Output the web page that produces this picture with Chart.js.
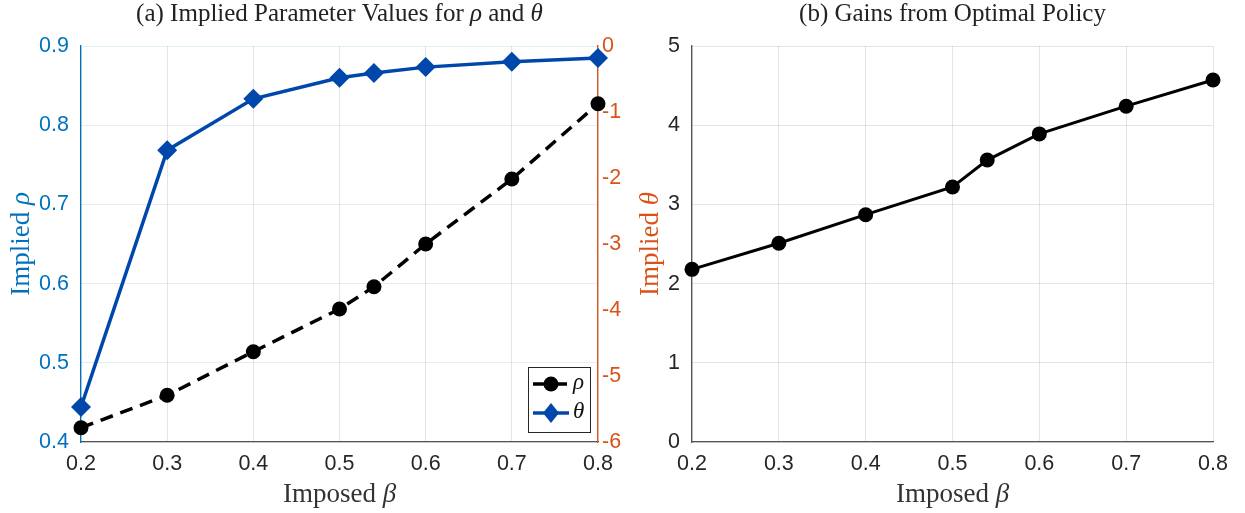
<!DOCTYPE html>
<html>
<head>
<meta charset="utf-8">
<script src="https://cdn.jsdelivr.net/npm/chart.js@4.4.1/dist/chart.umd.min.js"></script>
<style>
  body { margin: 0; background: #fff; }
  #wrap { position: relative; width: 1245px; height: 513px; }
  .box { position: absolute; top: 0; height: 513px; }
</style>
</head>
<body>
<div id="wrap">
  <div class="box" style="left:0;width:680px"><canvas id="left"></canvas></div>
  <div class="box" style="left:612px;width:633px"><canvas id="right"></canvas></div>
</div>
<script>
// imposed beta on x
var beta = [0.2, 0.3, 0.4, 0.5, 0.54, 0.6, 0.7, 0.8];
var rho = [0.418, 0.459, 0.514, 0.568, 0.596, 0.650, 0.732, 0.827];
var theta = [-5.47, -1.58, -0.80, -0.48, -0.41, -0.32, -0.24, -0.18];
var gains = [2.18, 2.51, 2.87, 3.22, 3.56, 3.89, 4.24, 4.57];

var xTicks = [0.2, 0.3, 0.4, 0.5, 0.6, 0.7, 0.8];
var rhoTicks = [0.4, 0.5, 0.6, 0.7, 0.8, 0.9];
var thetaTicks = [-6, -5, -4, -3, -2, -1, 0];
var gainTicks = [0, 1, 2, 3, 4, 5];

var BLUE = '#0072BD', ORANGE = '#D95319', DARK = '#262626', LINEBLUE = '#0047AB';
var sans = 'Liberation Sans, Arial, sans-serif';
var serif = 'Liberation Serif, Times New Roman, serif';
var TICK = 21.5, LABEL = 27, TITLE = 25;

function pts(ys) {
  return beta.map(function (b, i) { return {x: b, y: ys[i]}; });
}

// text made of runs, [text, italic], centred on (x, y), optionally turned
function drawRuns(ctx, runs, x, y, size, color, rot) {
  ctx.save();
  ctx.translate(x, y);
  if (rot) ctx.rotate(rot);
  ctx.fillStyle = color;
  ctx.textBaseline = 'middle';
  var fonts = runs.map(function (r) { return (r[1] ? 'italic ' : '') + size + 'px ' + serif; });
  var total = 0;
  runs.forEach(function (r, i) { ctx.font = fonts[i]; total += ctx.measureText(r[0]).width; });
  var cx = -total / 2;
  runs.forEach(function (r, i) {
    ctx.font = fonts[i];
    ctx.fillText(r[0], cx, 0);
    cx += ctx.measureText(r[0]).width;
  });
  ctx.restore();
}

function labelPlugin(items) {
  return {
    id: 'labels',
    afterDraw: function (chart) {
      var a = chart.chartArea, mid = (a.left + a.right) / 2, vmid = (a.top + a.bottom) / 2;
      items.forEach(function (it) {
        var x = it.x === 'mid' ? mid : it.x, y = it.y === 'mid' ? vmid : it.y;
        drawRuns(chart.ctx, it.runs, x, y, it.size, it.color, it.rot);
      });
    }
  };
}

function xAxis() {
  return {
    type: 'linear', min: 0.2, max: 0.8,
    afterBuildTicks: function (s) { s.ticks = xTicks.map(function (v) { return {value: v}; }); },
    afterFit: function (s) { s.height = 71; s.paddingLeft = 0; s.paddingRight = 0; },
    ticks: { color: DARK, font: {family: sans, size: TICK}, padding: 9, maxRotation: 0,
             callback: function (v) { return v.toFixed(1); } },
    grid: { color: 'rgba(0,0,0,0.1)', drawTicks: false },
    border: { color: '#555', width: 1.3 }
  };
}

// legend drawn inside the plot area, bottom right
var boxLegend = {
  id: 'boxLegend',
  afterDraw: function (chart) {
    var ctx = chart.ctx, a = chart.chartArea;
    var w = 62, h = 65, x0 = a.right - 70, y0 = a.bottom - 75;
    ctx.save();
    ctx.fillStyle = '#fff';
    ctx.fillRect(x0, y0, w, h);
    ctx.strokeStyle = '#262626';
    ctx.lineWidth = 1;
    ctx.strokeRect(x0 + 0.5, y0 + 0.5, w, h);
    chart.data.datasets.forEach(function (ds, i) {
      var y = y0 + 17 + i * 29, lx = x0 + 5, cx = lx + 18;
      ctx.strokeStyle = ds.borderColor;
      ctx.lineWidth = ds.borderWidth;
      ctx.setLineDash(ds.borderDash || []);
      ctx.beginPath(); ctx.moveTo(lx, y); ctx.lineTo(lx + 36, y); ctx.stroke();
      ctx.setLineDash([]);
      ctx.fillStyle = ds.pointBackgroundColor;
      ctx.beginPath();
      if (ds.pointStyle === 'rectRot') {
        var r = ds.pointRadius;
        ctx.moveTo(cx, y - r); ctx.lineTo(cx + r * 0.8, y); ctx.lineTo(cx, y + r); ctx.lineTo(cx - r * 0.8, y);
        ctx.closePath();
      } else {
        ctx.arc(cx, y, ds.pointRadius, 0, Math.PI * 2);
      }
      ctx.fill();
      ctx.fillStyle = '#111';
      ctx.font = 'italic 23px ' + serif;
      ctx.textBaseline = 'middle';
      ctx.fillText(ds.label, lx + 40, y - 1);
    });
    ctx.restore();
  }
};

new Chart(document.getElementById('left'), {
  type: 'line',
  data: {
    datasets: [{
      label: 'ρ', data: pts(rho), yAxisID: 'yRho', clip: false,
      borderColor: '#000', borderWidth: 3.5, borderDash: [13, 8],
      pointStyle: 'circle', pointRadius: 7.5, pointBackgroundColor: '#000', pointBorderWidth: 0
    }, {
      label: 'θ', data: pts(theta), yAxisID: 'yTheta', clip: false,
      borderColor: LINEBLUE, borderWidth: 3.5,
      pointStyle: 'rectRot', pointRadius: 10, pointBackgroundColor: LINEBLUE, pointBorderWidth: 0
    }]
  },
  options: {
    responsive: true, maintainAspectRatio: false, animation: false,
    layout: { padding: {top: 46} },
    plugins: { legend: { display: false }, tooltip: { enabled: false } },
    scales: {
      x: xAxis(),
      yRho: {
        type: 'linear', position: 'left', min: 0.4, max: 0.9,
        afterBuildTicks: function (s) { s.ticks = rhoTicks.map(function (v) { return {value: v}; }); },
        afterFit: function (s) { s.width = 81; s.paddingTop = 0; s.paddingBottom = 0; },
        ticks: { color: BLUE, font: {family: sans, size: TICK}, padding: 12,
                 callback: function (v) { return v.toFixed(1); } },
        grid: { color: 'rgba(0,114,189,0.12)', drawTicks: false },
        border: { color: BLUE, width: 1.3 }
      },
      yTheta: {
        type: 'linear', position: 'right', min: -6, max: 0,
        afterBuildTicks: function (s) { s.ticks = thetaTicks.map(function (v) { return {value: v}; }); },
        afterFit: function (s) { s.width = 82; s.paddingTop = 0; s.paddingBottom = 0; },
        ticks: { color: ORANGE, font: {family: sans, size: TICK}, padding: 4 },
        grid: { display: false, drawTicks: false },
        border: { color: ORANGE, width: 1.3 }
      }
    }
  },
  plugins: [boxLegend, labelPlugin([
    {runs: [['(a) Implied Parameter Values for '], ['ρ', 1], [' and '], ['θ', 1]],
     x: 'mid', y: 14, size: TITLE, color: '#222'},
    {runs: [['Imposed '], ['β', 1]], x: 'mid', y: 495, size: LABEL, color: '#333'},
    {runs: [['Implied '], ['ρ', 1]], x: 22, y: 'mid', size: LABEL, color: BLUE, rot: -Math.PI / 2},
    {runs: [['Implied '], ['θ', 1]], x: 651, y: 'mid', size: LABEL, color: ORANGE, rot: -Math.PI / 2}
  ])]
});

new Chart(document.getElementById('right'), {
  type: 'line',
  data: {
    datasets: [{
      label: 'Gains', data: pts(gains), clip: false,
      borderColor: '#000', borderWidth: 3,
      pointStyle: 'circle', pointRadius: 7.5, pointBackgroundColor: '#000', pointBorderWidth: 0
    }]
  },
  options: {
    responsive: true, maintainAspectRatio: false, animation: false,
    layout: { padding: {top: 46, right: 32} },
    plugins: { legend: { display: false }, tooltip: { enabled: false } },
    scales: {
      x: xAxis(),
      y: {
        type: 'linear', min: 0, max: 5,
        afterBuildTicks: function (s) { s.ticks = gainTicks.map(function (v) { return {value: v}; }); },
        afterFit: function (s) { s.width = 80; s.paddingTop = 0; s.paddingBottom = 0; },
        ticks: { color: DARK, font: {family: sans, size: TICK}, padding: 12 },
        grid: { color: 'rgba(0,0,0,0.1)', drawTicks: false },
        border: { color: '#555', width: 1.3 }
      }
    }
  },
  plugins: [labelPlugin([
    {runs: [['(b) Gains from Optimal Policy']], x: 'mid', y: 14, size: TITLE, color: '#222'},
    {runs: [['Imposed '], ['β', 1]], x: 'mid', y: 495, size: LABEL, color: '#333'}
  ])]
});
</script>
</body>
</html>
